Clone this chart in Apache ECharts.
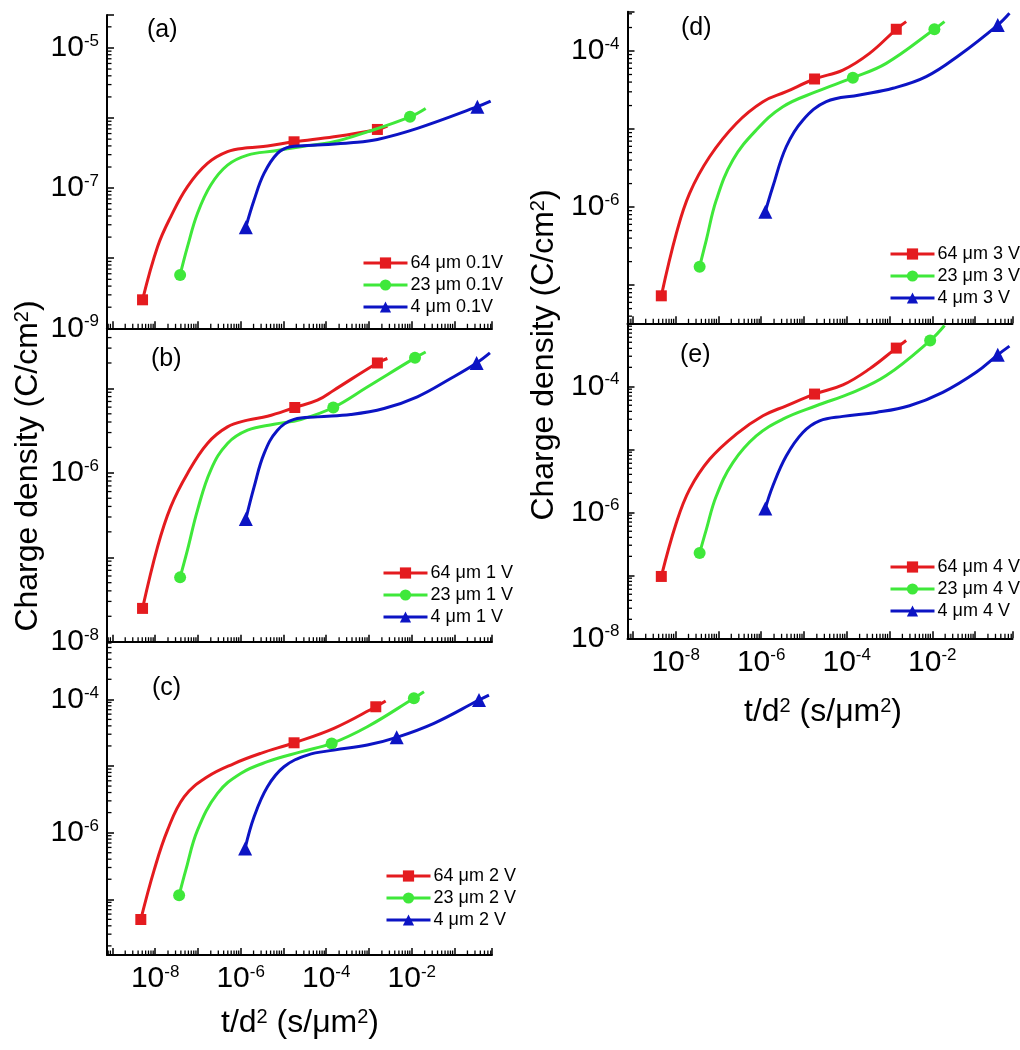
<!DOCTYPE html>
<html>
<head>
<meta charset="utf-8">
<script src="https://cdn.jsdelivr.net/npm/echarts@6/dist/echarts.min.js"></script>
<style>
html,body{margin:0;padding:0;background:#fff;}
#chart{width:1020px;height:1050px;}
</style>
</head>
<body>
<div id="chart"></div>
<script>
// ---------- data: [t/d^2 (s/um^2), charge density (C/cm^2)] ----------
// panel (a) 0.1 V
const a64 = [[5.08e-9,2.55e-9],[1.14e-8,1.46e-8],[2.33e-8,3.92e-8],[5.71e-8,1.05e-7],[1.67e-7,2.25e-7],[4.92e-7,3.31e-7],[1.45e-6,3.76e-7],[4.23e-6,3.98e-7],[1.77e-5,4.58e-7],[1.51e-4,5.40e-7],[1.57e-3,6.87e-7],[2.69e-3,7.67e-7]];
const a23 = [[3.84e-8,5.78e-9],[5.71e-8,1.46e-8],[9.79e-8,4.38e-8],[2.0e-7,1.11e-7],[4.92e-7,2.13e-7],[1.45e-6,2.96e-7],[6.03e-6,3.39e-7],[2.54e-5,3.89e-7],[1.51e-4,4.58e-7],[9.12e-4,6.35e-7],[9.08e-3,1.04e-6],[2.11e-2,1.37e-6]];
const a4  = [[1.32e-6,2.77e-8],[2.06e-6,6.76e-8],[3.52e-6,1.62e-7],[7.24e-6,3.13e-7],[1.48e-5,3.89e-7],[6.22e-5,4.11e-7],[3.74e-4,4.44e-7],[1.57e-3,4.95e-7],[1.35e-2,7.11e-7],[0.341,1.45e-6],[0.697,1.74e-6]];
// panel (b) 1 V
const b64 = [[5.08e-9,2.48e-8],[1.14e-8,1.33e-7],[2.33e-8,3.98e-7],[5.71e-8,9.84e-7],[1.67e-7,2.23e-6],[4.92e-7,3.50e-6],[1.45e-6,4.21e-6],[4.23e-6,4.68e-6],[1.84e-5,5.94e-6],[6.22e-5,7.24e-6],[1.51e-4,9.53e-6],[1.57e-3,2.0e-5],[2.69e-3,2.26e-5]];
const b23 = [[3.84e-8,5.78e-8],[5.71e-8,1.22e-7],[9.79e-8,3.62e-7],[2.0e-7,1.08e-6],[4.92e-7,2.23e-6],[1.45e-6,3.20e-6],[6.03e-6,3.77e-6],[2.54e-5,4.29e-6],[1.46e-4,5.94e-6],[9.12e-4,1.04e-5],[1.19e-2,2.30e-5],[2.11e-2,2.70e-5]];
const b4  = [[1.32e-6,2.83e-7],[2.06e-6,6.82e-7],[3.52e-6,1.69e-6],[7.24e-6,3.20e-6],[1.77e-5,4.29e-6],[6.22e-5,4.60e-6],[3.74e-4,4.91e-6],[2.24e-3,5.78e-6],[1.35e-2,7.96e-6],[8.11e-2,1.31e-5],[0.328,2.0e-5],[0.671,2.63e-5]];
// panel (c) 2 V
const c64 = [[4.63e-9,4.98e-8],[9.48e-9,2.74e-7],[1.95e-8,1.09e-6],[4.76e-8,3.45e-6],[1.67e-7,6.89e-6],[7.01e-7,1.09e-5],[2.95e-6,1.55e-5],[1.77e-5,2.23e-5],[1.51e-4,3.67e-5],[1.44e-3,7.74e-5],[2.45e-3,9.42e-5]];
const c23 = [[3.64e-8,1.15e-7],[5.21e-8,2.74e-7],[9.79e-8,1.09e-6],[2.87e-7,3.88e-6],[1.0e-6,7.74e-6],[4.23e-6,1.16e-5],[2.54e-5,1.63e-5],[1.34e-4,2.18e-5],[9.12e-4,3.88e-5],[1.12e-2,1.04e-4],[1.93e-2,1.30e-4]];
const c4  = [[1.27e-6,5.79e-7],[2.06e-6,1.73e-6],[4.23e-6,4.88e-6],[1.03e-5,9.73e-6],[3.64e-5,1.46e-5],[1.51e-4,1.73e-5],[9.12e-4,2.06e-5],[4.44e-3,2.69e-5],[3.30e-2,4.37e-5],[0.372,9.77e-5],[0.637,1.16e-4]];
// panel (d) 3 V
const d64 = [[4.63e-9,7.29e-8],[1.04e-8,4.60e-7],[2.12e-8,1.50e-6],[6.22e-8,4.42e-6],[2.62e-7,1.18e-5],[1.10e-6,2.24e-5],[3.85e-6,3.01e-5],[1.77e-5,4.38e-5],[8.13e-5,5.70e-5],[3.41e-4,9.33e-5],[1.44e-3,1.90e-4],[2.45e-3,2.38e-4]];
const d23 = [[3.64e-8,1.72e-7],[5.21e-8,3.78e-7],[8.93e-8,1.23e-6],[2.18e-7,4.01e-6],[7.67e-7,9.70e-6],[3.21e-6,1.93e-5],[1.94e-5,3.01e-5],[1.39e-4,4.55e-5],[8.38e-4,6.95e-5],[1.12e-2,1.90e-4],[1.93e-2,2.38e-4]];
const d4  = [[1.25e-6,8.71e-7],[1.87e-6,1.82e-6],[3.85e-6,5.93e-6],[9.42e-6,1.30e-5],[3.32e-5,2.24e-5],[1.99e-4,2.73e-5],[1.20e-3,3.33e-5],[7.21e-3,4.69e-5],[4.33e-2,8.89e-5],[0.339,2.15e-4],[0.637,3.04e-4]];
// panel (e) 4 V
const e64 = [[4.63e-9,9.59e-8],[1.04e-8,6.81e-7],[2.12e-8,2.31e-6],[6.22e-8,6.93e-6],[2.62e-7,1.74e-5],[1.10e-6,3.40e-5],[3.85e-6,4.91e-5],[1.77e-5,7.53e-5],[8.13e-5,1.05e-4],[3.41e-4,1.89e-4],[1.44e-3,4.04e-4],[2.45e-3,5.33e-4]];
const e23 = [[3.64e-8,2.26e-7],[5.21e-8,5.32e-7],[8.93e-8,1.81e-6],[2.18e-7,6.15e-6],[7.67e-7,1.63e-5],[3.21e-6,3.01e-5],[1.94e-5,4.91e-5],[1.39e-4,8.02e-5],[8.38e-4,1.48e-4],[8.91e-3,5.33e-4],[1.93e-2,9.25e-4]];
const e4  = [[1.25e-6,1.15e-6],[1.87e-6,2.61e-6],[3.85e-6,7.83e-6],[9.42e-6,1.85e-5],[2.31e-5,2.83e-5],[8.13e-5,3.33e-5],[4.89e-4,3.85e-5],[2.93e-3,4.91e-5],[1.76e-2,8.02e-5],[0.106,1.67e-4],[0.339,3.16e-4],[0.637,4.34e-4]];

// indices of the points that carry a marker
const a64Marks = [0, 8, 10], a23Marks = [0, 10], a4Marks = [0, 9];
const b64Marks = [0, 8, 11], b23Marks = [0, 8, 10], b4Marks = [0, 10];
const c64Marks = [0, 7, 9], c23Marks = [0, 7, 9], c4Marks = [0, 7, 9];
const d64Marks = [0, 7, 10], d23Marks = [0, 7, 9], d4Marks = [0, 9];
const e64Marks = [0, 7, 10], e23Marks = [0, 9], e4Marks = [0, 10];

// legend names
const namesA = ['64 \u03bcm 0.1V', '23 \u03bcm 0.1V', '4 \u03bcm 0.1V'];
const namesB = ['64 \u03bcm 1 V', '23 \u03bcm 1 V', '4 \u03bcm 1 V'];
const namesC = ['64 \u03bcm 2 V', '23 \u03bcm 2 V', '4 \u03bcm 2 V'];
const namesD = ['64 \u03bcm 3 V', '23 \u03bcm 3 V', '4 \u03bcm 3 V'];
const namesE = ['64 \u03bcm 4 V', '23 \u03bcm 4 V', '4 \u03bcm 4 V'];
const panelLetters = ['(a)', '(b)', '(c)', '(d)', '(e)'];

// labelled decade exponents
const xLabelExps = [-8, -6, -4, -2];
const yLabelExpsA = [-9, -7, -5];
const yLabelExpsB = [-8, -6];
const yLabelExpsC = [-6, -4];
const yLabelExpsD = [-6, -4];
const yLabelExpsE = [-8, -6, -4];

// axis ranges
const xRange = [7.5e-10, 0.75];
const yRangeA = [1e-9, 2.95e-5];
const yRangeB = [1e-8, 5.15e-5];
const yRangeC = [1.46e-8, 7.33e-4];
const yRangeD = [3.24e-8, 3.19e-4];
const yRangeE = [1e-8, 1e-3];

// ---------- styling / layout ----------
const FONT = '"Liberation Sans", Arial, Helvetica, sans-serif';
const COLORS = ['#e41b1f', '#3fe83a', '#0c14c4'];
const SYMBOLS = ['rect', 'circle', 'triangle'];
const SYMSIZE = [11, 12, 14];

const grids = [
  {left: 107, top: 15, width: 385, height: 313.3},
  {left: 107, top: 328.3, width: 385, height: 313.4},
  {left: 107, top: 641.7, width: 385, height: 313.3},
  {left: 627.5, top: 11.7, width: 385, height: 311.6},
  {left: 627.5, top: 323.3, width: 385, height: 315}
];
const legendPos = [
  {left: 362, top: 254}, {left: 382, top: 564}, {left: 385, top: 867},
  {left: 889, top: 245}, {left: 889, top: 558}
];
const letterPos = [[147, 30], [151, 359], [152, 688], [681, 28], [680, 355]];

const panels = [
  {series: [a64, a23, a4], marks: [a64Marks, a23Marks, a4Marks], names: namesA, yr: yRangeA, yl: yLabelExpsA, xl: false},
  {series: [b64, b23, b4], marks: [b64Marks, b23Marks, b4Marks], names: namesB, yr: yRangeB, yl: yLabelExpsB, xl: false},
  {series: [c64, c23, c4], marks: [c64Marks, c23Marks, c4Marks], names: namesC, yr: yRangeC, yl: yLabelExpsC, xl: true},
  {series: [d64, d23, d4], marks: [d64Marks, d23Marks, d4Marks], names: namesD, yr: yRangeD, yl: yLabelExpsD, xl: false},
  {series: [e64, e23, e4], marks: [e64Marks, e23Marks, e4Marks], names: namesE, yr: yRangeE, yl: yLabelExpsE, xl: true}
];

function expLabel(allowed) {
  return function (v) {
    const e = Math.log10(v);
    const r = Math.round(e);
    if (Math.abs(e - r) > 1e-3 || allowed.indexOf(r) < 0) return '';
    return '{b|10}{s|' + r + '}';
  };
}
const labelRich = {
  b: {fontSize: 30, fontFamily: FONT, color: '#000'},
  s: {fontSize: 17, fontFamily: FONT, color: '#000', verticalAlign: 'top'}
};
function logAxis(extra) {
  return Object.assign({
    type: 'log', logBase: 10, splitNumber: 10,
    axisLine: {show: true, onZero: false, lineStyle: {color: '#000', width: 2}},
    axisTick: {show: true, inside: true, length: 7, lineStyle: {color: '#000', width: 1.5}},
    minorTick: {show: false},
    splitLine: {show: false},
    minorSplitLine: {show: false}
  }, extra);
}

const option = {
  animation: false,
  backgroundColor: '#fff',
  grid: grids.map(g => Object.assign({containLabel: false}, g)),
  xAxis: panels.map((p, i) => logAxis({
    gridIndex: i, min: xRange[0], max: xRange[1],
    axisLabel: {show: p.xl, margin: 9, formatter: expLabel(xLabelExps), rich: labelRich}
  })),
  yAxis: panels.map((p, i) => logAxis({
    gridIndex: i, min: p.yr[0], max: p.yr[1],
    axisLabel: {show: true, margin: 8, formatter: expLabel(p.yl), rich: labelRich}
  })),
  legend: panels.map((p, i) => ({
    data: p.names, orient: 'vertical', left: legendPos[i].left, top: legendPos[i].top,
    padding: 0, itemGap: 4, itemWidth: 44, itemHeight: 14,
    lineStyle: {width: 3},
    textStyle: {fontSize: 18, fontFamily: FONT, color: '#000', padding: [0, 0, 0, -2]},
    selectedMode: false
  })),
  series: [],
  graphic: []
};

// minor ticks (2..9 x 10^n) drawn through each panel's own log scales
function minorTickSeries(i, xr, yr) {
  return {
    type: 'custom', coordinateSystem: 'cartesian2d', xAxisIndex: i, yAxisIndex: i,
    silent: true, clip: false, z: 20,
    data: [[xr[0], yr[0]]],
    renderItem: function (params, api) {
      const children = [];
      const origin = api.coord([xr[0], yr[0]]);
      const x0 = origin[0], y0 = origin[1];
      for (let n = -12; n <= 2; n++) {
        for (let m = 2; m <= 9; m++) {
          const v = m * Math.pow(10, n);
          if (v > xr[0] && v < xr[1]) {
            const px = api.coord([v, yr[0]])[0];
            children.push({type: 'line', shape: {x1: px, y1: y0, x2: px, y2: y0 - 4.5},
              style: {stroke: '#000', lineWidth: 1.3, fill: null}});
          }
          if (v > yr[0] && v < yr[1]) {
            const py = api.coord([xr[0], v])[1];
            children.push({type: 'line', shape: {x1: x0, y1: py, x2: x0 + 4.5, y2: py},
              style: {stroke: '#000', lineWidth: 1.3, fill: null}});
          }
        }
      }
      return {type: 'group', children: children};
    }
  };
}

panels.forEach((p, i) => {
  p.series.forEach((pts, k) => {
    const marks = p.marks[k];
    option.series.push({
      type: 'line', name: p.names[k], xAxisIndex: i, yAxisIndex: i,
      smooth: 0.4, showAllSymbol: true,
      symbol: SYMBOLS[k], symbolSize: SYMSIZE[k],
      lineStyle: {color: COLORS[k], width: 3},
      itemStyle: {color: COLORS[k], borderWidth: 0},
      data: pts.map((pt, j) => marks.indexOf(j) >= 0 ? {value: pt} : {value: pt, symbol: 'none'}),
      z: 2 + k
    });
  });
  option.series.push(minorTickSeries(i, xRange, p.yr));
  option.graphic.push({
    type: 'text', x: letterPos[i][0], y: letterPos[i][1],
    style: {text: panelLetters[i], fontSize: 25, fontFamily: FONT, fill: '#000', verticalAlign: 'middle'}
  });
});

const titleRich = {
  t: {fontSize: 32, fontFamily: FONT, color: '#000'},
  s: {fontSize: 20, fontFamily: FONT, color: '#000', verticalAlign: 'top'}
};
// y-axis titles
[[28, 466], [544, 355]].forEach(pos => {
  option.graphic.push({
    type: 'text', x: pos[0], y: pos[1], rotation: Math.PI / 2,
    style: {text: '{t|Charge density (C/cm}{s|2}{t|)}', rich: titleRich, align: 'center', verticalAlign: 'middle'}
  });
});
// x-axis titles
[[300, 1023], [823, 712]].forEach(pos => {
  option.graphic.push({
    type: 'text', x: pos[0], y: pos[1],
    style: {text: '{t|t/d}{s|2}{t| (s/\u03bcm}{s|2}{t|)}', rich: titleRich, align: 'center', verticalAlign: 'middle'}
  });
});

const chart = echarts.init(document.getElementById('chart'), null, {renderer: 'canvas'});
chart.setOption(option);
</script>
</body>
</html>
